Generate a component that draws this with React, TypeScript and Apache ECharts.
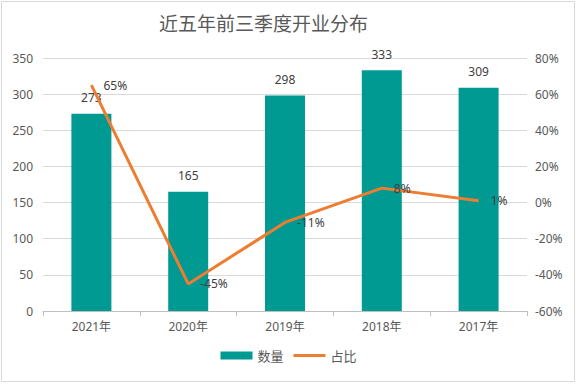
import React, { useEffect, useRef } from "react";
import * as echarts from "echarts";

const categories = ["2021年", "2020年", "2019年", "2018年", "2017年"];
const counts = [273, 165, 298, 333, 309];
const ratios = [65, -45, -11, 8, 1];

export default function App() {
  const ref = useRef<HTMLDivElement>(null);
  useEffect(() => {
    document.body.style.margin = "0";
    if (!ref.current) return;
    const chart = echarts.init(ref.current, null, { renderer: "svg" });
    const font = "'Noto Sans', 'Noto Sans CJK SC', sans-serif";
    chart.setOption({
      animation: false,
      backgroundColor: "#ffffff",
      textStyle: { fontFamily: font },
      title: {
        text: "近五年前三季度开业分布",
        left: 154,
        top: 8,
        textStyle: { fontSize: 19, fontWeight: "normal", color: "#595959", fontFamily: "'Noto Sans CJK SC', sans-serif" },
      },
      graphic: [
        { type: "rect", shape: { x: 1.5, y: 1.5, width: 573, height: 380 }, style: { fill: "none", stroke: "#d9d9d9", lineWidth: 1 } },
      ],
      legend: {
        bottom: 17,
        left: "center",
        itemGap: 10,
        itemWidth: 32,
        itemHeight: 8,
        textStyle: { fontSize: 13, color: "#595959" },
        data: [
          { name: "数量", icon: "rect" },
          { name: "占比", icon: "path://M0,0 L32,0 L32,3 L0,3 Z", itemStyle: { color: "#ed7d31", opacity: 1 } },
        ],
      },
      grid: { left: 43, right: 50, top: 58, bottom: 73 },
      xAxis: {
        type: "category",
        data: categories,
        axisLine: { lineStyle: { color: "#bfbfbf" } },
        axisTick: { show: true, length: 5, lineStyle: { color: "#bfbfbf" } },
        axisLabel: { color: "#595959", fontSize: 12, margin: 9 },
      },
      yAxis: [
        {
          type: "value",
          min: 0,
          max: 350,
          interval: 50,
          axisLine: { show: false },
          axisTick: { show: false },
          axisLabel: { color: "#595959", fontSize: 12, margin: 10 },
          splitLine: { lineStyle: { color: "#d9d9d9" } },
        },
        {
          type: "value",
          min: -60,
          max: 80,
          interval: 20,
          axisLine: { show: false },
          axisTick: { show: false },
          axisLabel: { color: "#595959", fontSize: 12, margin: 8, formatter: "{value}%" },
          splitLine: { show: false },
        },
      ],
      series: [
        {
          name: "数量",
          type: "bar",
          data: counts,
          barWidth: 40,
          itemStyle: { color: "#009a93" },
          label: { show: true, position: "top", distance: 10, color: "#404040", fontSize: 12 },
        },
        {
          name: "占比",
          type: "line",
          yAxisIndex: 1,
          data: ratios,
          symbol: "circle",
          symbolSize: 0.1,
          showSymbol: true,
          lineStyle: { color: "#ed7d31", width: 3 },
          itemStyle: { color: "#ed7d31" },
          label: { show: true, position: "right", distance: 12, color: "#404040", fontSize: 12, formatter: "{c}%" },
          z: 3,
        },
      ],
    });
    return () => chart.dispose();
  }, []);
  return <div ref={ref} style={{ width: 577, height: 384 }} />;
}
